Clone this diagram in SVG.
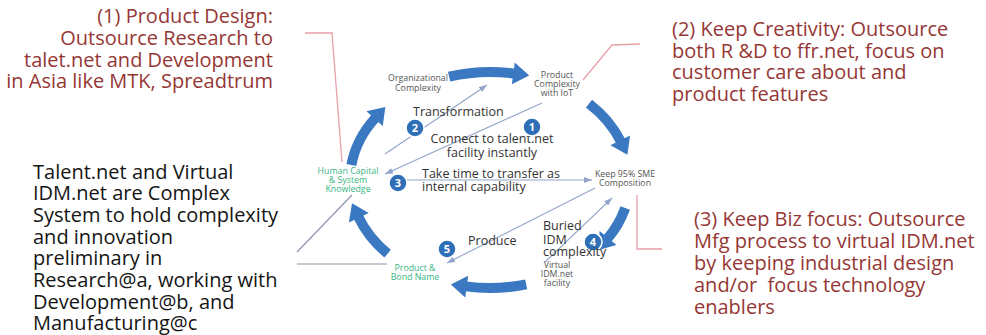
<svg xmlns="http://www.w3.org/2000/svg" width="986" height="335" viewBox="0 0 986 335">
<style>
.big{font-family:"Open Sans","Liberation Sans",sans-serif;font-size:20px}
.red{fill:#953735}
.blk{fill:#151515}
.lbl{font-family:"Open Sans","Liberation Sans",sans-serif;font-size:12.5px;fill:#333}
.sm{font-family:"Open Sans","Liberation Sans",sans-serif;font-size:8.8px;fill:#555;text-anchor:middle}
.grn{fill:#3bb685}
.blue{fill:none;stroke:#3a78c2;stroke-width:10;marker-end:url(#bh)}
.thin{fill:none;stroke:#93a5c9;stroke-width:1.1;marker-end:url(#th)}
.gray{fill:none;stroke:#8a93a8;stroke-width:1.1}
.pink{fill:none;stroke:#e8a0a8;stroke-width:1.3}
.badge circle{fill:#2f6fb7;stroke:#fff;stroke-width:1.5}
.badge text{font-family:"Open Sans","Liberation Sans",sans-serif;font-size:11px;font-weight:bold;fill:#fff;text-anchor:middle}
</style>
<defs>
<marker id="bh" markerUnits="userSpaceOnUse" viewBox="-1 0 17 22" markerWidth="17" markerHeight="22" refX="0" refY="11" orient="auto" overflow="visible">
<path d="M-1,0 L15,11 L-1,22 z" fill="#3a78c2"/>
</marker>
<marker id="th" markerUnits="userSpaceOnUse" viewBox="0 0 8 6" markerWidth="8" markerHeight="6" refX="8" refY="3" orient="auto">
<path d="M0,0 L8,3 L0,6 z" fill="#93a5c9"/>
</marker>
</defs>
<rect width="986" height="335" fill="#fff"/>

<g id="callouts">
<polyline class="pink" points="305,33 332,33 342,162"/>
<polyline class="pink" points="640,44 612,45 583,80"/>
<polyline class="pink" points="637,195 637,249 662,249"/>
<line class="gray" x1="352" y1="195" x2="297" y2="252"/>
<line class="gray" x1="297" y1="264" x2="387" y2="264"/>
</g>

<g id="connectors">
<path class="blue" d="M449.1,76.7 A140 108 0 0 1 514.3,73.6"/>
<path class="blue" d="M589,103.6 A140 108 0 0 1 620.7,141.3"/>
<path class="blue" d="M625.2,208 A140 108 0 0 1 607.4,238.8"/>
<path class="blue" d="M526.2,284.3 A140 108 0 0 1 465.7,286.4"/>
<path class="blue" d="M387.6,253.7 A140 108 0 0 1 358.4,216.9"/>
<path class="blue" d="M351.4,165 A140 108 0 0 1 375.3,118"/>
<line class="thin" x1="385" y1="154" x2="487" y2="85"/>
<line class="thin" x1="542" y1="103" x2="385" y2="174"/>
<line class="thin" x1="407" y1="180" x2="592" y2="180"/>
<line class="thin" x1="595" y1="188" x2="447" y2="263"/>
<line class="thin" x1="545" y1="262" x2="612" y2="198"/>
</g>

<g id="note1">
<text class="big red" text-anchor="end"><tspan x="273" y="23">(1) Product Design:</tspan><tspan x="273" y="45">Outsource Research to</tspan><tspan x="273" y="67">talet.net and Development</tspan><tspan x="273" y="88">in Asia like MTK, Spreadtrum</tspan></text>
</g>
<g id="note2">
<text class="big red"><tspan x="672" y="36">(2) Keep Creativity: Outsource</tspan><tspan x="672" y="58">both R &amp;D to ffr.net, focus on</tspan><tspan x="672" y="79">customer care about and</tspan><tspan x="672" y="101">product features</tspan></text>
</g>
<g id="note3">
<text class="big red"><tspan x="694" y="226">(3) Keep Biz focus: Outsource</tspan><tspan x="694" y="248">Mfg process to virtual IDM.net</tspan><tspan x="694" y="270">by keeping industrial design</tspan><tspan x="694" y="292">and/or&#160; focus technology</tspan><tspan x="694" y="314">enablers</tspan></text>
</g>
<g id="note-left">
<text class="big blk"><tspan x="33" y="179">Talent.net and Virtual</tspan><tspan x="33" y="200">IDM.net are Complex</tspan><tspan x="33" y="222">System to hold complexity</tspan><tspan x="33" y="244">and innovation</tspan><tspan x="33" y="265">preliminary in</tspan><tspan x="33" y="287">Research@a, working with</tspan><tspan x="33" y="309">Development@b, and</tspan><tspan x="33" y="330">Manufacturing@c</tspan></text>
</g>

<g id="org-complexity"><text class="sm"><tspan x="418" y="81">Organizational</tspan><tspan x="418" y="91">Complexity</tspan></text></g>
<g id="product-complexity"><text class="sm"><tspan x="557" y="78">Product</tspan><tspan x="557" y="87">Complexity</tspan><tspan x="557" y="96">with IoT</tspan></text></g>
<g id="human-capital"><text class="sm grn"><tspan x="348" y="174">Human Capital</tspan><tspan x="348" y="183">&amp; System</tspan><tspan x="348" y="192">Knowledge</tspan></text></g>
<g id="keep-sme"><text class="sm"><tspan x="625" y="177">Keep 95% SME</tspan><tspan x="625" y="186">Composition</tspan></text></g>
<g id="product-brand"><text class="sm grn"><tspan x="415" y="271">Product &amp;</tspan><tspan x="415" y="280">Bond Name</tspan></text></g>
<g id="virtual-idm"><text class="sm"><tspan x="557" y="268">Virtual</tspan><tspan x="557" y="277">IDM.net</tspan><tspan x="557" y="286">facility</tspan></text></g>

<g id="labels">
<text class="lbl" x="413" y="116">Transformation</text>
<text class="lbl" text-anchor="middle"><tspan x="492" y="143">Connect to talent.net</tspan><tspan x="492" y="157">facility instantly</tspan></text>
<text class="lbl"><tspan x="422" y="178">Take time to transfer as</tspan><tspan x="422" y="191">internal capability</tspan></text>
<text class="lbl" x="468" y="245">Produce</text>
</g>

<g id="badge-2" class="badge"><circle cx="415" cy="128" r="9"/><text x="415" y="132">2</text></g>
<g id="badge-1" class="badge"><circle cx="532" cy="127" r="9"/><text x="532" y="131">1</text></g>
<g id="badge-3" class="badge"><circle cx="398" cy="183" r="9"/><text x="398" y="187">3</text></g>
<g id="badge-5" class="badge"><circle cx="447" cy="249" r="9"/><text x="447" y="253">5</text></g>
<g id="badge-4" class="badge"><circle cx="593" cy="242" r="9"/><text x="593" y="246">4</text></g>
<text class="lbl"><tspan x="543" y="230">Buried</tspan><tspan x="543" y="244">IDM</tspan><tspan x="543" y="256">complexity</tspan></text>
</svg>
